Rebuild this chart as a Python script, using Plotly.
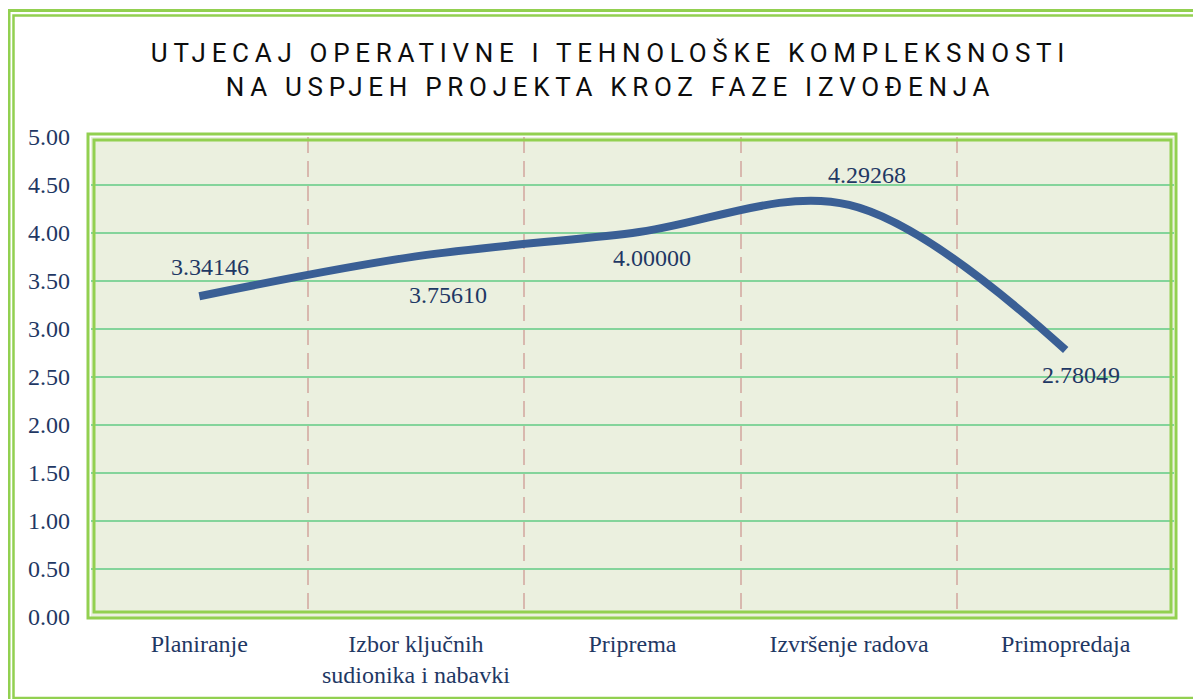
import plotly.graph_objects as go

# ---- data ----
categories = ["Planiranje", "Izbor ključnih<br>sudionika i nabavki", "Priprema",
              "Izvršenje radova", "Primopredaja"]
values = [3.34146, 3.75610, 4.00000, 4.29268, 2.78049]
y_ticks = [0, 0.5, 1, 1.5, 2, 2.5, 3, 3.5, 4, 4.5, 5]
title_lines = ["UTJECAJ OPERATIVNE I TEHNOLOŠKE KOMPLEKSNOSTI",
               "NA USPJEH PROJEKTA KROZ FAZE IZVOĐENJA"]

# label offsets (style), in pixels
label_dx = [11, 32, 19, 18, 15]
label_dy = [29, -39, -25, 30, -25]

OFF = 8  # page body margin
W, H = 1193, 691
L, R, T, B = 83, 27, 129, 82
pw, ph = W - L - R, H - T - B

def px(x):
    return (x - OFF - L) / pw

def py(y):
    return (H - B - (y - OFF)) / ph

TXT = "#1F3864"
GREEN = "#92D050"
FS = 24

fig = go.Figure()
fig.add_trace(go.Scatter(
    x=categories, y=values, mode="lines",
    line=dict(color="#3A5F95", width=8, shape="spline", smoothing=1),
    hoverinfo="x+y", showlegend=False, cliponaxis=False,
))

for c, v, dx, dy in zip(categories, values, label_dx, label_dy):
    fig.add_annotation(x=c, y=v, text=f"{v:.5f}", showarrow=False,
                       xshift=dx, yshift=dy,
                       font=dict(family="Liberation Serif", size=FS, color=TXT))

title_text = "<br>".join(
    f'<span style="letter-spacing:5.7px">{t}</span>' for t in title_lines)

shapes = [
    # plot-area double border
    dict(type="rect", xref="paper", yref="paper", x0=px(88), x1=px(1176),
         y0=py(618), y1=py(134), line=dict(color=GREEN, width=3)),
    dict(type="rect", xref="paper", yref="paper", x0=px(94), x1=px(1171),
         y0=py(612), y1=py(140), line=dict(color=GREEN, width=3)),
    # outer frame
    dict(type="rect", xref="paper", yref="paper", x0=px(9), x1=px(1215),
         y0=py(715), y1=py(10.5), line=dict(color=GREEN, width=3)),
    dict(type="rect", xref="paper", yref="paper", x0=px(13.5), x1=px(1200.5),
         y0=py(698), y1=py(15.5), line=dict(color=GREEN, width=2.5)),
]

fig.update_layout(
    width=W, height=H,
    margin=dict(l=L, r=R, t=T, b=B),
    paper_bgcolor="white",
    plot_bgcolor="#EBF0DF",
    title=dict(text=title_text, x=0.505, xanchor="center",
               y=1 - 54 / H, yanchor="top", yref="container",
               font=dict(family="Roboto", size=26, color="#0D0D0D")),
    xaxis=dict(
        type="category", range=[-0.5, 4.5], tickson="boundaries",
        showgrid=True, gridcolor="#D8B8AE", griddash="16px,8px", gridwidth=2,
        ticks="", showline=False, zeroline=False,
        tickfont=dict(family="Liberation Serif", size=FS, color=TXT),
        ticklabelstandoff=10,
    ),
    yaxis=dict(
        range=[0, 5], tickvals=y_ticks, tickformat=".2f",
        showgrid=True, gridcolor="#84D49B", gridwidth=2,
        ticks="", showline=False, zeroline=False,
        tickfont=dict(family="Liberation Serif", size=FS, color=TXT),
        ticklabelstandoff=20,
    ),
    shapes=shapes,
)

fig.write_html("out.html")
